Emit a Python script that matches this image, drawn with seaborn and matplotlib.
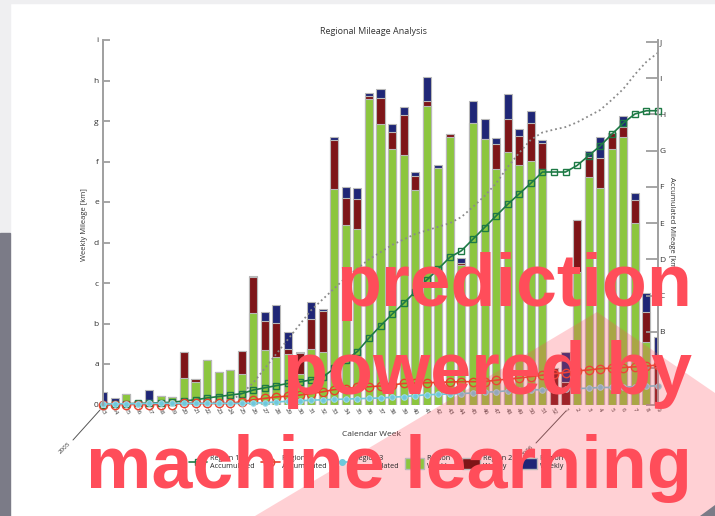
import numpy as np
import pandas as pd
import matplotlib
matplotlib.use('Agg')
import matplotlib.pyplot as plt
from matplotlib.patches import Polygon, Rectangle, Patch
from matplotlib.lines import Line2D
import seaborn as sns

# calendar weeks: 2005 wk 13..52, then next year wk 1..9
weeks = [str(w) for w in range(13, 53)] + [str(w) for w in range(1, 10)]

# weekly mileage (left axis)
r1_weekly = [0.05, 0.05, 0.25, 0.08, 0.10, 0.21, 0.19, 0.65, 0.56, 1.10,
             0.81, 0.85, 0.75, 2.27, 1.35, 1.18, 1.24, 0.75, 1.37, 1.29,
             5.32, 4.43, 4.33, 7.54, 6.92, 6.30, 6.16, 5.30, 7.37, 5.83,
             6.61, 3.45, 6.94, 6.56, 5.81, 6.23, 5.91, 6.01, 5.81, 0.00,
             0.00, 3.28, 5.61, 5.35, 6.30, 6.61, 4.47, 1.55, 0.00]
r2_weekly = [0.00, 0.00, 0.00, 0.00, 0.00, 0.00, 0.00, 0.64, 0.06, 0.00,
             0.00, 0.00, 0.58, 0.89, 0.72, 0.83, 0.12, 0.53, 0.74, 1.03,
             1.21, 0.68, 0.75, 0.08, 0.64, 0.43, 0.99, 0.35, 0.12, 0.00,
             0.07, 0.05, 0.00, 0.00, 0.61, 0.81, 0.71, 0.95, 0.65, 0.90,
             0.55, 1.28, 0.51, 0.73, 0.40, 0.25, 0.59, 0.74, 1.06]
r3_weekly = [0.25, 0.12, 0.00, 0.00, 0.26, 0.00, 0.00, 0.00, 0.00, 0.00,
             0.00, 0.00, 0.00, 0.02, 0.22, 0.45, 0.42, 0.02, 0.41, 0.04,
             0.07, 0.26, 0.27, 0.08, 0.23, 0.19, 0.20, 0.10, 0.60, 0.08,
             0.00, 0.12, 0.55, 0.48, 0.17, 0.62, 0.19, 0.29, 0.07, 0.00,
             0.74, 0.00, 0.14, 0.52, 0.00, 0.27, 0.17, 0.47, 0.61]

# accumulated mileage (right axis)
r1_acc = [0.00, 0.01, 0.02, 0.03, 0.04, 0.05, 0.06, 0.10, 0.13, 0.18,
          0.22, 0.26, 0.30, 0.40, 0.46, 0.52, 0.58, 0.62, 0.68, 0.75,
          1.00, 1.22, 1.46, 1.83, 2.17, 2.49, 2.79, 3.11, 3.43, 3.74,
          4.06, 4.24, 4.56, 4.88, 5.20, 5.52, 5.81, 6.10, 6.41, 6.41,
          6.41, 6.59, 6.86, 7.13, 7.45, 7.76, 8.01, 8.10, 8.10]
r2_acc = [0.00, 0.00, 0.00, 0.00, 0.00, 0.00, 0.00, 0.03, 0.03, 0.03,
          0.03, 0.03, 0.08, 0.13, 0.17, 0.21, 0.23, 0.26, 0.30, 0.35,
          0.41, 0.44, 0.47, 0.49, 0.51, 0.54, 0.58, 0.59, 0.60, 0.61,
          0.62, 0.63, 0.63, 0.63, 0.67, 0.70, 0.73, 0.77, 0.81, 0.85,
          0.88, 0.93, 0.95, 0.99, 1.00, 1.02, 1.04, 1.06, 1.09]
r3_acc = [0.01, 0.02, 0.02, 0.02, 0.03, 0.03, 0.03, 0.03, 0.03, 0.03,
          0.03, 0.03, 0.03, 0.04, 0.05, 0.07, 0.09, 0.10, 0.12, 0.13,
          0.14, 0.15, 0.16, 0.17, 0.18, 0.20, 0.22, 0.24, 0.27, 0.28,
          0.29, 0.30, 0.32, 0.34, 0.35, 0.38, 0.39, 0.40, 0.41, 0.41,
          0.44, 0.44, 0.45, 0.47, 0.47, 0.48, 0.49, 0.50, 0.52]
total_acc = [0.02, 0.02, 0.02, 0.02, 0.02, 0.02, 0.02, 0.03, 0.04, 0.05,
             0.06, 0.10, 0.30, 0.60, 1.00, 1.40, 1.80, 2.20, 2.60, 2.90,
             3.20, 3.50, 3.75, 4.00, 4.20, 4.40, 4.55, 4.70, 4.80, 4.90,
             5.00, 5.17, 5.45, 5.75, 6.10, 6.55, 6.94, 7.30, 7.50, 7.58,
             7.65, 7.78, 7.95, 8.12, 8.40, 8.70, 9.10, 9.45, 9.70]

left_ticks = ['0', 'a', 'b', 'c', 'd', 'e', 'f', 'g', 'h', 'i']
right_ticks = ['0', 'A', 'B', 'C', 'D', 'E', 'F', 'G', 'H', 'I', 'J']

green = '#8cc63e'
darkred = '#7e1518'
navy = '#1f2676'
c_r1 = '#1d7a45'
c_r2 = '#e8402c'
c_r3 = '#6ec9dc'
red_txt = '#ff4d5a'

W, H = 715, 516

sns.set_theme(style='white')
plt.rcParams['font.family'] = ['Open Sans', 'DejaVu Sans']

fig = plt.figure(figsize=(W / 100, H / 100), dpi=100)
ax = fig.add_axes([103 / W, 1 - 404.5 / H, (658 - 103) / W, (404.5 - 40) / H])

df = pd.DataFrame({'week': weeks, 'r1': r1_weekly, 'r2': r2_weekly, 'r3': r3_weekly})
df['top2'] = df['r1'] + df['r2']
df['top3'] = df['top2'] + df['r3']

# stacked bars: draw the full stack first, then cover with lower parts
for col, color in [('top3', navy), ('top2', darkred), ('r1', green)]:
    sns.barplot(data=df, x='week', y=col, order=weeks, color=color, saturation=1,
                width=0.7, edgecolor='#b8b8b8', linewidth=0.8, errorbar=None, ax=ax)

ax2 = ax.twinx()
pos = np.arange(len(weeks))
sns.lineplot(x=pos, y=total_acc, ax=ax2, color='#8a8a8a', linestyle=':', linewidth=1.3)
sns.lineplot(x=pos, y=r1_acc, ax=ax2, color=c_r1, linewidth=1.2, marker='s',
             markersize=5, markerfacecolor='none', markeredgecolor=c_r1, markeredgewidth=1, clip_on=False)
sns.lineplot(x=pos, y=r2_acc, ax=ax2, color=c_r2, linewidth=1.2, marker='o',
             markersize=6, markerfacecolor='none', markeredgecolor=c_r2, markeredgewidth=1, clip_on=False)
sns.lineplot(x=pos, y=r3_acc, ax=ax2, color=c_r3, linewidth=1.2, marker='o',
             markersize=4, markerfacecolor=c_r3, markeredgecolor='#9fd9e6', clip_on=False)

ax.set_xlim(0, len(weeks) - 1)
ax.set_ylim(0, 9)
ax2.set_ylim(0, 10.05)

ax.set_yticks(range(10))
ax.set_yticklabels(left_ticks)
ax2.set_yticks(range(11))
ax2.set_yticklabels(right_ticks)
ax.set_xticks(pos)
ax.set_xticklabels(weeks, rotation=-60, ha='center', va='top', fontsize=4.5, color='#333333')
ax.tick_params(axis='x', length=0, pad=2)
ax.tick_params(axis='y', direction='in', length=5, color='#9a9a9a', labelsize=6, labelcolor='#333333', pad=3)
ax2.tick_params(axis='y', direction='in', length=9, color='#9a9a9a', labelsize=6, labelcolor='#333333', pad=1)
ax.set_xlabel('')
ax.set_ylabel('')
ax2.set_ylabel('')

for a in (ax, ax2):
    for s in ('top', 'bottom'):
        a.spines[s].set_visible(False)
    a.spines['left'].set_color('#a0a0a0')
    a.spines['right'].set_color('#a0a0a0')
    a.grid(False)

fig.text(373 / W, 1 - 31 / H, 'Regional Mileage Analysis', ha='center', va='center', fontsize=6.5, color='#333333')
fig.text(84 / W, 1 - 225 / H, 'Weekly Mileage [km]', rotation=90, ha='center', va='center', fontsize=5.5, color='#333333')
fig.text(672 / W, 1 - 224 / H, 'Accumulated Mileage [km]', rotation=270, ha='center', va='center', fontsize=5.5, color='#333333')
fig.text(372 / W, 1 - 434 / H, 'Calendar Week', ha='center', va='center', fontsize=6, color='#333333')

# year markers
fig.add_artist(Line2D([73 / W, 100 / W], [1 - 440 / H, 1 - 410 / H], color='#555555', linewidth=0.7))
fig.text(65 / W, 1 - 448 / H, '2005', rotation=45, ha='center', va='center', fontsize=4.5, color='#333333')
fig.add_artist(Line2D([536 / W, 566 / W], [1 - 443 / H, 1 - 411 / H], color='#555555', linewidth=0.7))
fig.text(528 / W, 1 - 451 / H, '2006', rotation=45, ha='center', va='center', fontsize=4.5, color='#333333')

handles = [
    Line2D([], [], color=c_r1, marker='s', markerfacecolor='none', markersize=5, linewidth=1.2),
    Line2D([], [], color=c_r2, marker='o', markerfacecolor='none', markersize=6, linewidth=1.2),
    Line2D([], [], color=c_r3, marker='o', markerfacecolor=c_r3, markersize=4, linewidth=1.2),
    Patch(facecolor=green, edgecolor='#b8b8b8'),
    Patch(facecolor=darkred, edgecolor='#b8b8b8'),
    Patch(facecolor=navy, edgecolor='#b8b8b8'),
]
labels = ['Region 1\nAccumulated', 'Region 2\nAccumulated', 'Region 3\nAccumulated',
          'Region 1\nWeekly', 'Region 2\nWeekly', 'Region 3\nWeekly']
fig.legend(handles, labels, loc='center', bbox_to_anchor=(379 / W, 1 - 463 / H), ncol=6,
           frameon=False, fontsize=5.2, handlelength=2.6, handleheight=2, columnspacing=0.8,
           handletextpad=0.4, labelspacing=0.2)

# slide decoration
fig.add_artist(Rectangle((0, 1 - 3 / H), 1, 3 / H, transform=fig.transFigure, color='#efeff1', zorder=3))
fig.add_artist(Rectangle((0, 1 - 233 / H), 10 / W, 233 / H, transform=fig.transFigure, color='#efeff1', zorder=3))
fig.add_artist(Rectangle((0, 0), 10 / W, (H - 233) / H, transform=fig.transFigure, color='#7b7b87', zorder=3))
fig.add_artist(Polygon([(255 / W, 0), (597 / W, 1 - 312 / H), (1, 1 - 393 / H), (1, 0)],
                       closed=True, transform=fig.transFigure, facecolor=red_txt, alpha=0.26,
                       edgecolor='none', zorder=5))
fig.add_artist(Polygon([(700 / W, 0), (1, 0), (1, 1 - 505 / H)], closed=True,
                       transform=fig.transFigure, facecolor='#7b7b87', edgecolor='none', zorder=6))

for txt, base in [('prediction', 306), ('powered by', 394), ('machine learning', 488)]:
    fig.text(692 / W, 1 - base / H, txt, ha='right', va='baseline', fontsize=53, fontweight='bold',
             color=red_txt, family='Liberation Sans', zorder=10)

fig.savefig('out.png', dpi=100)
